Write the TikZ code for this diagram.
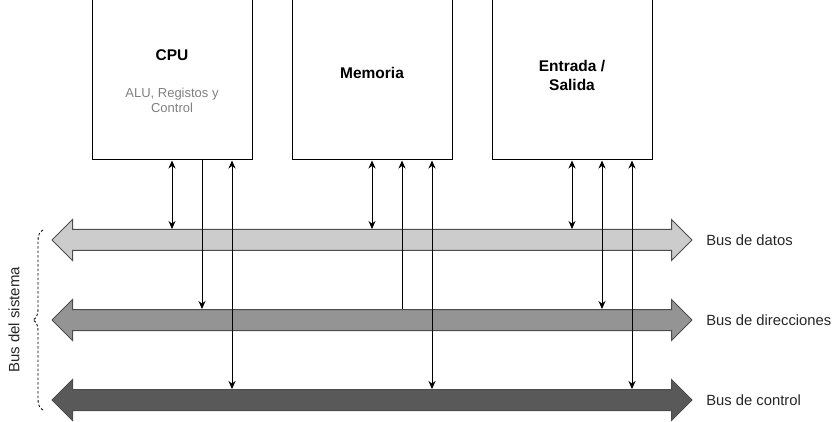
\documentclass[tikz,border=0pt]{standalone}
\usepackage{fontspec}
\setmainfont{Liberation Sans}
\usetikzlibrary{arrows.meta}
\usetikzlibrary{positioning, shapes.arrows, decorations.pathreplacing}

\begin{document}
\begin{tikzpicture}[x=1pt,y=-1pt,node distance=200pt,on grid,
    >={Stealth[length=8pt,width=7pt]},
    box/.style={draw,line width=1pt,minimum width=160pt,minimum height=160pt},
    title/.style={align=center,font=\fontsize{15.5}{19}\selectfont\bfseries},
    subtitle/.style={align=center,font=\fontsize{13}{15}\selectfont,text=black!50},
    bus/.style={double arrow,draw=black!70,line width=1pt,inner xsep=0pt,inner ysep=10pt,
      minimum height=640pt,double arrow head extend=10pt},
    buslabel/.style={on grid=false,anchor=west,font=\fontsize{14.8}{18}\selectfont,text=black!85},
    wire/.style={line width=1pt}]
  \useasboundingbox (0,0) rectangle (838,422);
  % boxes
  \node[box] (cpu) at (172,80) {};
  \node[box] (mem) [right=of cpu] {};
  \node[box] (es) [right=of mem] {};
  \node[title] (cputxt) at (172,55) {CPU};
  \node[subtitle] (cpusub) at (172,100) {ALU, Registos y\\Control};
  \node[title] (memtxt) at ([yshift=7pt]mem.center) {Memoria};
  \node[title] (estxt) at ([yshift=5pt]es.center) {Entrada /\\Salida};
  % buses
  \node[bus,fill=black!20] (datos) [below=160pt of mem] {};
  \node[bus,fill=black!42] (dir) [below=80pt of datos] {};
  \node[bus,fill=black!65] (ctrl) [below=80pt of dir] {};
  \node[buslabel] (ldatos) [right=10pt of datos] {Bus de datos};
  \node[buslabel] (ldir) [right=10pt of dir] {Bus de direcciones};
  \node[buslabel] (lctrl) [right=10pt of ctrl] {Bus de control};
  \node[font=\fontsize{15}{18}\selectfont,text=black!85,rotate=90] (sistema) at (14,320) {Bus del sistema};
  \draw[black,line width=0.9pt,dash pattern=on 2.5pt off 2pt,decorate,decoration={brace,amplitude=10pt}]
    (43,410) -- (43,230);
  % wires
  \path[wire,<->]
    (cpu.south) edge (cpu.south |- datos.north)
    ([xshift=30pt]cpu.south) edge[->] ([xshift=30pt]cpu.south |- dir.north)
    ([xshift=60pt]cpu.south) edge ([xshift=60pt]cpu.south |- ctrl.north)
    (mem.south) edge (mem.south |- datos.north)
    ([xshift=30pt]mem.south) edge[<-] ([xshift=30pt]mem.south |- dir.north)
    ([xshift=60pt]mem.south) edge ([xshift=60pt]mem.south |- ctrl.north)
    (es.south) edge (es.south |- datos.north)
    ([xshift=30pt]es.south) edge ([xshift=30pt]es.south |- dir.north)
    ([xshift=60pt]es.south) edge ([xshift=60pt]es.south |- ctrl.north);
\end{tikzpicture}
\end{document}
